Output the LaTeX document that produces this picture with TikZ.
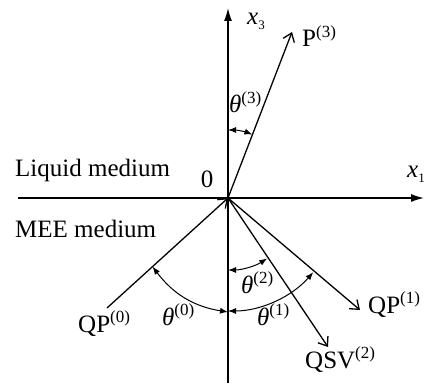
\documentclass[tikz,border=0pt]{standalone}
\usepackage{fontspec}
\setmainfont{Liberation Serif}
\usetikzlibrary{arrows.meta,calc}
\newcommand{\mysup}[1]{\raisebox{0.8ex}{\fontsize{17}{17}\selectfont(#1)}}
\newcommand{\mysub}[1]{\raisebox{-0.35ex}{\fontsize{13}{13}\selectfont #1}}
\begin{document}
\begin{tikzpicture}[x=1pt,y=1pt,
  lbl/.style={inner sep=0pt, font=\fontsize{25}{29}\selectfont},
  axisline/.style={line width=1.3pt, -{Latex[length=13pt,width=8pt]}},
  wave/.style={line width=1.3pt, -{Straight Barb[length=8pt,width=12pt,line width=1.3pt]}},
  ang/.style={line width=1pt, {Latex[length=8pt,width=6pt]}-{Latex[length=8pt,width=6pt]}}]
\useasboundingbox (0,0) rectangle (425,383);
% points
\coordinate (O) at (228,185);
\coordinate (vbot) at (228,0);
\coordinate (vtop) at (228,375);
\coordinate (hleft) at (18,185);
\coordinate (hright) at (424,185);
\coordinate (P3) at (292,351);
\coordinate (QP1) at (360,73);
\coordinate (QSV2) at (328,36);
\coordinate (QP0) at (107,75);
% axes
\draw[axisline] (vbot) -- (vtop);
\draw[axisline] (hleft) -- (hright);
% waves
\draw[wave] (O) -- (P3);
\draw[wave] (O) -- (QP1);
\draw[wave] (O) -- (QSV2);
\draw[wave] (QP0) -- (O);
% angle arcs
\draw[ang] ([shift={(90:68)}]O) arc[start angle=90, end angle=69, radius=68];
\draw[ang] ([shift={(-90:72)}]O) arc[start angle=-90, end angle=-57, radius=72];
\draw[ang] ([shift={(-90:113)}]O) arc[start angle=-90, end angle=-41, radius=113];
\coordinate (A0) at ($(O)!102pt!(QP0)$);
\coordinate (B0) at (228,71);
\draw[ang] (A0) to[bend right=22] (B0);
% labels
\node[lbl, anchor=base west] (liq) at (15,206) {Liquid medium};
\node[lbl, anchor=base west] (mee) at (15,146) {MEE medium};
\node[lbl, anchor=base] (zero) at (207,195) {0};
\node[lbl, anchor=base east] (x1) at (425,205) {\textit{x}\mysub{1}};
\node[lbl, anchor=base west] (x3) at (247,358) {\textit{x}\mysub{3}};
\node[lbl, anchor=base west] (lP3) at (302,336) {P\mysup{3}};
\node[lbl, anchor=base west] (t3) at (229,270) {\textit{θ}\mysup{3}};
\node[lbl, anchor=base west] (t2) at (241,90) {\textit{θ}\mysup{2}};
\node[lbl, anchor=base west] (t1) at (257,58) {\textit{θ}\mysup{1}};
\node[lbl, anchor=base west] (t0) at (162,58) {\textit{θ}\mysup{0}};
\node[lbl, anchor=base west] (lQP0) at (78,51) {QP\mysup{0}};
\node[lbl, anchor=base west] (lQP1) at (368,70) {QP\mysup{1}};
\node[lbl, anchor=base west] (lQSV2) at (305,15) {QSV\mysup{2}};
\end{tikzpicture}
\end{document}
